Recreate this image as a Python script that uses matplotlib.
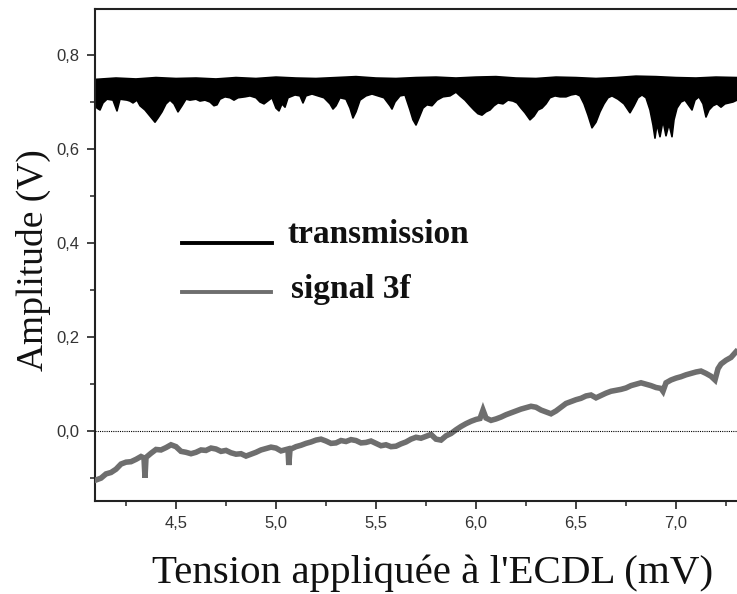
import matplotlib
matplotlib.use("Agg")
import matplotlib.pyplot as plt
from matplotlib.lines import Line2D
from matplotlib.ticker import MultipleLocator, FuncFormatter
import numpy as np

# ---------------- data ----------------
# transmission: lower envelope of the dense black trace
trans_low_x = [4.095, 4.105, 4.120, 4.135, 4.155, 4.185, 4.205, 4.220, 4.255, 4.270,
               4.285, 4.305, 4.320, 4.345, 4.370, 4.385, 4.395, 4.410, 4.430, 4.450,
               4.470, 4.490, 4.510, 4.530, 4.550, 4.570, 4.600, 4.620, 4.645, 4.670,
               4.690, 4.705, 4.720, 4.745, 4.770, 4.790, 4.810, 4.845, 4.870, 4.900,
               4.920, 4.940, 4.980, 5.000, 5.015, 5.030, 5.045, 5.060, 5.095, 5.120,
               5.135, 5.150, 5.180, 5.210, 5.240, 5.270, 5.285, 5.300, 5.320, 5.350,
               5.370, 5.385, 5.400, 5.420, 5.450, 5.480, 5.510, 5.540, 5.570, 5.580,
               5.595, 5.620, 5.645, 5.670, 5.685, 5.700, 5.715, 5.735, 5.755, 5.780,
               5.805, 5.835, 5.870, 5.900, 5.920, 5.945, 5.970, 5.990, 6.010, 6.030,
               6.050, 6.070, 6.090, 6.110, 6.135, 6.160, 6.185, 6.205, 6.225, 6.245,
               6.270, 6.290, 6.310, 6.330, 6.350, 6.370, 6.395, 6.420, 6.450, 6.475,
               6.500, 6.520, 6.540, 6.560, 6.580, 6.600, 6.620, 6.640, 6.660, 6.680,
               6.710, 6.740, 6.770, 6.790, 6.810, 6.830, 6.850, 6.870, 6.885, 6.895,
               6.905, 6.920, 6.935, 6.950, 6.965, 6.980, 6.990, 7.005, 7.025, 7.045,
               7.065, 7.080, 7.095, 7.115, 7.135, 7.150, 7.165, 7.185, 7.205, 7.225,
               7.245, 7.265, 7.285, 7.305]
trans_low_y = [0.704, 0.687, 0.683, 0.698, 0.706, 0.704, 0.681, 0.706, 0.704, 0.702,
               0.698, 0.704, 0.692, 0.683, 0.670, 0.662, 0.657, 0.666, 0.679, 0.696,
               0.704, 0.696, 0.679, 0.692, 0.706, 0.704, 0.706, 0.702, 0.704, 0.700,
               0.692, 0.694, 0.706, 0.711, 0.709, 0.704, 0.709, 0.711, 0.713, 0.709,
               0.700, 0.696, 0.709, 0.687, 0.681, 0.696, 0.689, 0.709, 0.715, 0.713,
               0.698, 0.713, 0.717, 0.713, 0.709, 0.696, 0.685, 0.692, 0.709, 0.706,
               0.687, 0.666, 0.679, 0.704, 0.713, 0.717, 0.713, 0.709, 0.692, 0.685,
               0.700, 0.713, 0.715, 0.683, 0.662, 0.651, 0.666, 0.687, 0.694, 0.692,
               0.704, 0.711, 0.713, 0.721, 0.713, 0.704, 0.692, 0.683, 0.675, 0.672,
               0.679, 0.683, 0.692, 0.698, 0.696, 0.704, 0.702, 0.698, 0.687, 0.677,
               0.662, 0.670, 0.683, 0.687, 0.696, 0.709, 0.713, 0.711, 0.711, 0.715,
               0.717, 0.713, 0.696, 0.672, 0.645, 0.657, 0.679, 0.696, 0.709, 0.713,
               0.706, 0.696, 0.677, 0.692, 0.709, 0.715, 0.709, 0.683, 0.651, 0.623,
               0.653, 0.626, 0.660, 0.628, 0.653, 0.626, 0.662, 0.687, 0.700, 0.704,
               0.692, 0.683, 0.704, 0.711, 0.696, 0.668, 0.683, 0.692, 0.696, 0.689,
               0.696, 0.698, 0.700, 0.704]
# transmission: upper envelope
trans_up_x = [4.095, 4.20, 4.30, 4.40, 4.50, 4.60, 4.70, 4.80, 4.90, 5.00, 5.10,
              5.20, 5.30, 5.40, 5.50, 5.60, 5.70, 5.80, 5.90, 6.00, 6.10, 6.20,
              6.30, 6.40, 6.50, 6.60, 6.70, 6.80, 6.90, 7.00, 7.10, 7.20, 7.305]
trans_up_y = [0.748, 0.751, 0.749, 0.752, 0.750, 0.751, 0.749, 0.752, 0.750, 0.753,
              0.751, 0.750, 0.752, 0.754, 0.751, 0.750, 0.752, 0.753, 0.751, 0.753,
              0.754, 0.751, 0.750, 0.753, 0.752, 0.750, 0.752, 0.755, 0.754, 0.752,
              0.751, 0.753, 0.752]

# signal 3f (grey trace)
sig_x = [4.100, 4.125, 4.150, 4.175, 4.200, 4.225, 4.250, 4.275, 4.300, 4.325,
         4.340, 4.345, 4.350, 4.375, 4.400, 4.425, 4.450, 4.475, 4.500, 4.525,
         4.550, 4.575, 4.600, 4.625, 4.650, 4.675, 4.700, 4.725, 4.750, 4.775,
         4.800, 4.825, 4.850, 4.875, 4.900, 4.925, 4.950, 4.975, 5.000, 5.025,
         5.050, 5.060, 5.064, 5.070, 5.100, 5.125, 5.150, 5.175, 5.200, 5.225,
         5.250, 5.275, 5.300, 5.325, 5.350, 5.375, 5.400, 5.425, 5.450, 5.475,
         5.500, 5.525, 5.550, 5.575, 5.600, 5.625, 5.650, 5.675, 5.700, 5.725,
         5.750, 5.775, 5.800, 5.825, 5.850, 5.875, 5.900, 5.925, 5.950, 5.975,
         6.000, 6.020, 6.035, 6.050, 6.075, 6.100, 6.125, 6.150, 6.175, 6.200,
         6.225, 6.250, 6.275, 6.300, 6.325, 6.350, 6.375, 6.400, 6.425, 6.450,
         6.475, 6.500, 6.525, 6.550, 6.575, 6.600, 6.625, 6.650, 6.675, 6.700,
         6.725, 6.750, 6.775, 6.800, 6.825, 6.850, 6.875, 6.900, 6.925, 6.935,
         6.950, 6.975, 7.000, 7.025, 7.050, 7.075, 7.100, 7.125, 7.150, 7.175,
         7.195, 7.210, 7.225, 7.250, 7.275, 7.300]
sig_y = [-0.105, -0.101, -0.092, -0.089, -0.082, -0.071, -0.067, -0.066, -0.061, -0.055,
         -0.058, -0.100, -0.057, -0.048, -0.040, -0.041, -0.036, -0.030, -0.034, -0.044,
         -0.046, -0.049, -0.046, -0.041, -0.042, -0.037, -0.039, -0.044, -0.042, -0.047,
         -0.050, -0.049, -0.054, -0.050, -0.046, -0.041, -0.038, -0.035, -0.037, -0.043,
         -0.040, -0.039, -0.073, -0.040, -0.034, -0.031, -0.027, -0.024, -0.020, -0.018,
         -0.022, -0.027, -0.026, -0.021, -0.023, -0.019, -0.021, -0.026, -0.025, -0.022,
         -0.027, -0.032, -0.030, -0.034, -0.033, -0.028, -0.024, -0.018, -0.014, -0.016,
         -0.012, -0.008, -0.018, -0.020, -0.011, -0.006, 0.002, 0.009, 0.015, 0.020,
         0.024, 0.026, 0.044, 0.027, 0.022, 0.025, 0.029, 0.034, 0.038, 0.042,
         0.046, 0.049, 0.052, 0.050, 0.044, 0.040, 0.036, 0.042, 0.050, 0.058,
         0.062, 0.066, 0.069, 0.074, 0.076, 0.070, 0.075, 0.080, 0.084, 0.086,
         0.088, 0.091, 0.096, 0.099, 0.102, 0.099, 0.096, 0.092, 0.090, 0.084,
         0.102, 0.108, 0.112, 0.115, 0.119, 0.122, 0.125, 0.127, 0.122, 0.116,
         0.108, 0.132, 0.142, 0.150, 0.156, 0.168]

x_ticks = [4.5, 5.0, 5.5, 6.0, 6.5, 7.0]
y_ticks = [0.0, 0.2, 0.4, 0.6, 0.8]
legend_labels = ["transmission", "signal 3f"]
x_label = "Tension appliquée à l'ECDL (mV)"
y_label = "Amplitude (V)"

# ---------------- figure ----------------
W, H = 737, 594
fig = plt.figure(figsize=(W / 100, H / 100), dpi=100)
ax = fig.add_axes([95 / W, 1 - 501 / H, 1 - 95 / W, (501 - 9) / H])

GREY = "#6e6e6e"

# transmission band
poly_x = list(trans_low_x) + list(trans_up_x[::-1])
poly_y = list(trans_low_y) + list(trans_up_y[::-1])
ax.fill(poly_x, poly_y, color="black", lw=0, zorder=2)
ax.plot(trans_low_x, trans_low_y, color="black", lw=1.2, zorder=2)
ax.plot(trans_up_x, trans_up_y, color="black", lw=1.2, zorder=2)

# signal 3f
ax.plot(sig_x, sig_y, color=GREY, lw=4.0, solid_joinstyle="miter", zorder=3)

# zero reference line
ax.axhline(0.0, color="black", lw=0.8, linestyle=(0, (1, 1)), zorder=4)

ax.set_xlim(4.095, 7.305)
ax.set_ylim(-0.1497, 0.898)

comma = FuncFormatter(lambda v, p: f"{v:.1f}".replace(".", ","))
ax.xaxis.set_major_locator(plt.FixedLocator(x_ticks))
ax.xaxis.set_minor_locator(MultipleLocator(0.25))
ax.yaxis.set_major_locator(plt.FixedLocator(y_ticks))
ax.yaxis.set_minor_locator(MultipleLocator(0.1))
ax.xaxis.set_major_formatter(comma)
ax.yaxis.set_major_formatter(comma)

ax.tick_params(which="major", direction="out", length=6, width=1.2, colors="#222222",
               labelsize=12, pad=5)
ax.tick_params(which="minor", direction="out", length=3.5, width=1.1, colors="#222222")
for lab in ax.get_xticklabels() + ax.get_yticklabels():
    lab.set_fontfamily("Liberation Sans")
    lab.set_color("#333333")

ax.spines["right"].set_visible(False)
for s in ["left", "bottom", "top"]:
    ax.spines[s].set_linewidth(1.5)
    ax.spines[s].set_color("#222222")

# axis titles
fig.text(433 / W, 1 - 583 / H, x_label, ha="center", va="baseline",
         family="Liberation Serif", fontsize=29.5, color="#111111")
fig.text(33 / W, 1 - 260 / H, y_label, ha="center", va="center", rotation=90,
         family="Liberation Serif", fontsize=27, color="#111111")

# legend drawn manually
fig.add_artist(Line2D([182 / W, 272 / W], [1 - 243 / H, 1 - 243 / H],
                      color="black", lw=2.8, transform=fig.transFigure))
fig.add_artist(Line2D([182 / W, 271 / W], [1 - 291.5 / H, 1 - 291.5 / H],
                      color=GREY, lw=2.8, transform=fig.transFigure))
fig.text(287 / W, 1 - 243 / H, legend_labels[0], ha="left", va="baseline",
         family="Liberation Serif", fontweight="bold", fontsize=24, color="#111111")
fig.text(291 / W, 1 - 298 / H, legend_labels[1], ha="left", va="baseline",
         family="Liberation Serif", fontweight="bold", fontsize=24, color="#111111")

fig.savefig("out.png", dpi=100)
